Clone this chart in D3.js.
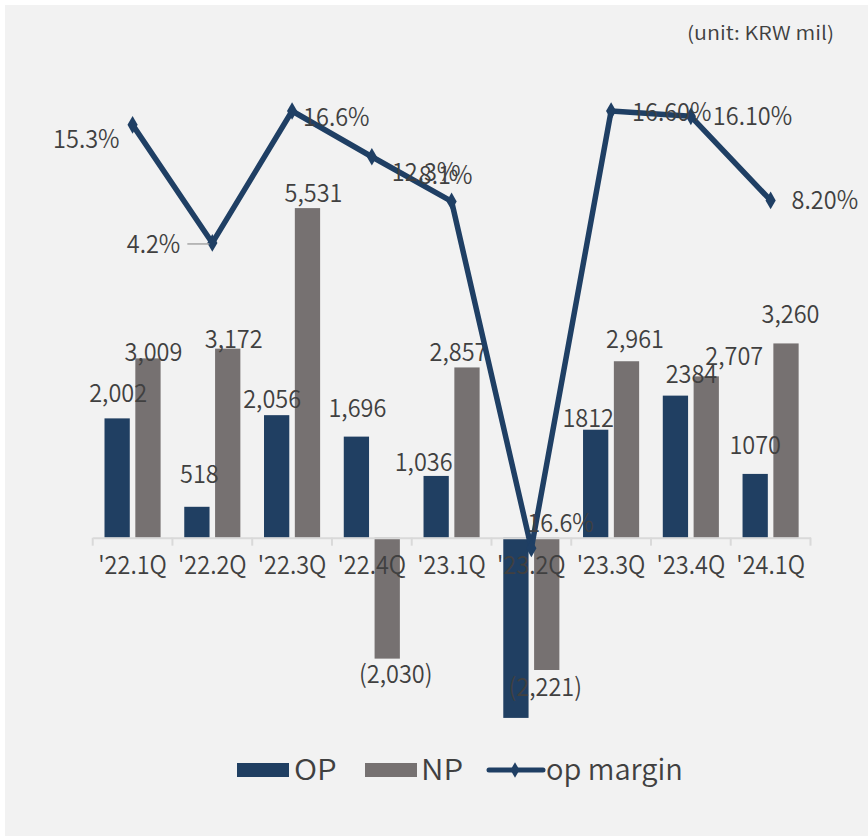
<!DOCTYPE html>
<html>
<head>
<meta charset="utf-8">
<script src="https://cdn.jsdelivr.net/npm/d3@7"></script>
<style>
  html, body { margin: 0; padding: 0; background: #ffffff; }
  svg { display: block; }
  text { font-family: 'Noto Sans CJK KR', 'Liberation Sans', sans-serif; font-weight: 350; fill: #404040; }
</style>
</head>
<body>
<script>
// ---- data ----
const categories = ["'22.1Q", "'22.2Q", "'22.3Q", "'22.4Q", "'23.1Q", "'23.2Q", "'23.3Q", "'23.4Q", "'24.1Q"];
const opValues = [2002, 518, 2056, 1696, 1036, -3025, 1812, 2384, 1070];
const npValues = [3009, 3172, 5531, -2030, 2857, -2221, 2961, 2707, 3260];
const opLabels = ["2,002", "518", "2,056", "1,696", "1,036", "", "1812", "2384", "1070"];
const npLabels = ["3,009", "3,172", "5,531", "(2,030)", "2,857", "(2,221)", "2,961", "2,707", "3,260"];
const marginValues = [15.3, 4.2, 16.6, 12.3, 8.1, -24.5, 16.6, 16.1, 8.2];
const marginLabels = ["15.3%", "4.2%", "16.6%", "12.3%", "8.1%", "16.6%", "16.60%", "16.10%", "8.20%"];
const seriesNames = ["OP", "NP", "op margin"];
const unitText = "(unit: KRW mil)";

// ---- layout / style (not data) ----
const W = 868, H = 838;
const colors = { OP: "#203f62", NP: "#767171", line: "#1f3f64", text: "#404040", axis: "#d9d9d9", bg: "#f2f2f2" };
const FS = 25, SX = 0.94;
// manual label nudges (dx, dy) relative to bar centre / bar end, as placed in the original
const opNudge = [[1,-16],[2.5,-24],[-4.5,-7],[1,-20],[-12.5,-5],[0,0],[-7.5,-3],[16,-13],[0,-20]];
const npNudge = [[5.5,3],[6,-1],[6,-6],[8.5,24],[-8.5,-6],[-1.5,26],[8.5,-13],[28,-11],[4.5,-20]];
// margin labels: [anchor, dx, dy]
const mNudge = [["end",-13,23],["end",-32,10],["start",11,15],["start",20,24],["middle",-6,-17],["start",-4,-16],["start",21,10],["start",22,9],["start",21,9]];

const svg = d3.select("body").append("svg").attr("width", W).attr("height", H);
svg.append("rect").attr("x", 5).attr("y", 5).attr("width", W - 5).attr("height", 831).attr("fill", colors.bg);

function label(parent, x, y, str, size, anchor, sx, fill) {
  return parent.append("text")
    .attr("transform", `translate(${x},${y}) scale(${sx},1)`)
    .attr("text-anchor", anchor).attr("font-size", size)
    .attr("fill", fill || colors.text).text(str);
}

const x0 = d3.scaleBand().domain(categories).range([92.7, 810.5]).paddingInner(0).paddingOuter(0);
const x1 = d3.scaleBand().domain(["OP", "NP"]).range([11.8, 67.9]).paddingInner(0.18);
const yBar = d3.scaleLinear().domain([-4000, 8000]).range([776, 61]);
const yM = d3.scaleLinear().domain([-45.9, 21.3]).range([776, 61]);

const g = svg.append("g");

// bars
const rows = categories.map((c, i) => ({ c, i, OP: opValues[i], NP: npValues[i] }));
["OP", "NP"].forEach(key => {
  g.selectAll("rect.b" + key).data(rows).enter().append("rect")
    .attr("class", "b" + key)
    .attr("x", d => x0(d.c) + x1(key))
    .attr("width", x1.bandwidth())
    .attr("y", d => yBar(Math.max(0, d[key])))
    .attr("height", d => Math.abs(yBar(d[key]) - yBar(0)))
    .attr("fill", colors[key]);
});

// x axis
const xAxis = d3.axisBottom(x0).tickSize(0).tickPadding(13);
const axG = g.append("g").attr("transform", `translate(0,${yBar(0)})`).call(xAxis);
axG.select(".domain").attr("stroke", colors.axis).attr("stroke-width", 2);
axG.selectAll(".tick text").attr("font-size", FS).attr("fill", colors.text).attr("dy", "0.95em")
  .attr("font-family", "'Noto Sans CJK KR', sans-serif").attr("font-weight", 350)
  .attr("transform", `scale(${SX},1)`);
const bounds = categories.map(c => x0(c)).concat([x0.range()[1]]);
axG.selectAll("line.sep").data(bounds).enter().append("line")
  .attr("class", "sep").attr("x1", d => d).attr("x2", d => d).attr("y1", 0).attr("y2", 8)
  .attr("stroke", colors.axis).attr("stroke-width", 2);

// bar labels
rows.forEach((d, i) => {
  if (opLabels[i]) {
    label(g, x0(d.c) + x1("OP") + x1.bandwidth() / 2 + opNudge[i][0], yBar(d.OP) + opNudge[i][1], opLabels[i], FS, "middle", SX);
  }
  label(g, x0(d.c) + x1("NP") + x1.bandwidth() / 2 + npNudge[i][0], yBar(d.NP) + npNudge[i][1], npLabels[i], FS, "middle", SX);
});

// margin line
const cx = c => x0(c) + x0.bandwidth() / 2;
const line = d3.line().x((d, i) => cx(categories[i])).y(d => yM(d));
g.append("path").datum(marginValues).attr("d", line).attr("fill", "none")
  .attr("stroke", colors.line).attr("stroke-width", 5.5).attr("stroke-linejoin", "round");
g.selectAll("path.mk").data(marginValues).enter().append("path").attr("class", "mk")
  .attr("d", d3.symbol().type(d3.symbolDiamond).size(90))
  .attr("transform", (d, i) => `translate(${cx(categories[i])},${yM(d)})`)
  .attr("fill", colors.line);

// leader line for 4.2%
g.append("line").attr("x1", cx(categories[1]) - 25).attr("x2", cx(categories[1]) - 3)
  .attr("y1", yM(marginValues[1]) + 1).attr("y2", yM(marginValues[1]) + 1)
  .attr("stroke", "#a6a6a6").attr("stroke-width", 1.5);

marginValues.forEach((v, i) => {
  label(g, cx(categories[i]) + mNudge[i][1], yM(v) + mNudge[i][2], marginLabels[i], FS, mNudge[i][0], SX);
});

// unit text
label(svg, 834, 40, unitText, 19, "end", 1.13, "#262626");

// legend
const lg = svg.append("g");
lg.append("rect").attr("x", 237).attr("y", 763).attr("width", 52).attr("height", 14).attr("fill", colors.OP);
label(lg, 294, 780, seriesNames[0], 29, "start", 1.08);
lg.append("rect").attr("x", 365).attr("y", 763).attr("width", 52).attr("height", 14).attr("fill", colors.NP);
label(lg, 421, 780, seriesNames[1], 29, "start", 1.08);
lg.append("line").attr("x1", 489).attr("x2", 543).attr("y1", 770).attr("y2", 770)
  .attr("stroke", colors.line).attr("stroke-width", 5).attr("stroke-linecap", "round");
lg.append("path").attr("d", d3.symbol().type(d3.symbolDiamond).size(70))
  .attr("transform", "translate(515,770)").attr("fill", colors.line);
label(lg, 546, 780, seriesNames[2], 29, "start", 1.0);
</script>
</body>
</html>
